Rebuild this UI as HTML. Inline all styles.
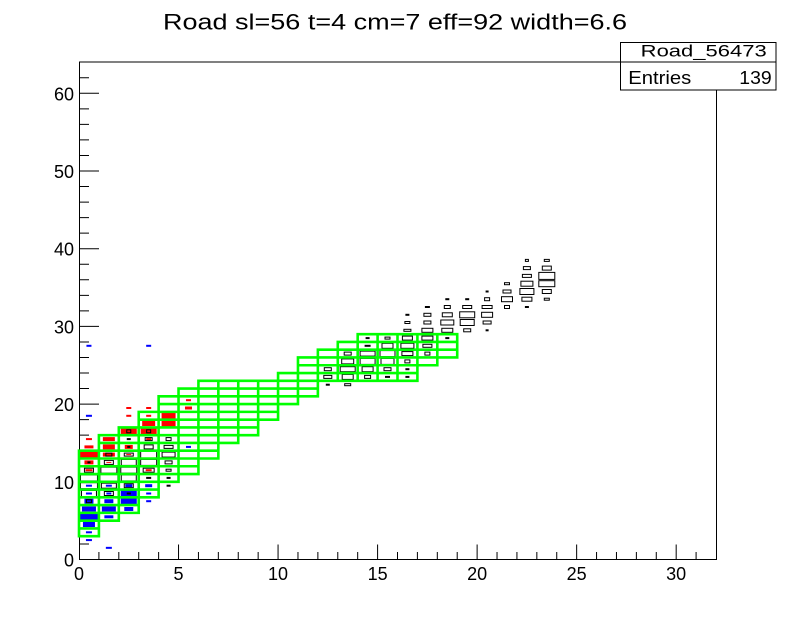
<!DOCTYPE html>
<html><head><meta charset="utf-8"><style>
html,body{margin:0;padding:0;background:#fff;}
svg{display:block;}
.r{fill:#ff0000;}
.b{fill:#0000ff;}
.f{fill:#000;}
.o{fill:none;stroke:#000;stroke-width:1;}
text{font-family:"Liberation Sans",Arial,sans-serif;fill:#000;}
</style></head><body>
<svg width="796" height="622" viewBox="0 0 796 622" xmlns="http://www.w3.org/2000/svg">
<rect x="0" y="0" width="796" height="622" fill="#fff"/>
<!-- title -->
<text x="163" y="29.3" font-size="22" textLength="464" lengthAdjust="spacingAndGlyphs">Road sl=56 t=4 cm=7 eff=92 width=6.6</text>

<!-- frame -->
<rect x="79.5" y="62" width="637" height="497.5" fill="none" stroke="#000" stroke-width="1"/>

<!-- x ticks -->
<path stroke="#000" stroke-width="1" fill="none" d="
M79.5 559.5V544.5 M178.53 559.5V544.5 M278.06 559.5V544.5 M377.59 559.5V544.5 M477.12 559.5V544.5 M576.65 559.5V544.5 M676.18 559.5V544.5
M98.91 559.5V552 M118.81 559.5V552 M138.72 559.5V552 M158.62 559.5V552
M198.44 559.5V552 M218.34 559.5V552 M238.25 559.5V552 M258.15 559.5V552
M297.97 559.5V552 M317.87 559.5V552 M337.78 559.5V552 M357.68 559.5V552
M397.5 559.5V552 M417.4 559.5V552 M437.31 559.5V552 M457.21 559.5V552
M497.03 559.5V552 M516.93 559.5V552 M536.84 559.5V552 M556.74 559.5V552
M596.56 559.5V552 M616.46 559.5V552 M636.37 559.5V552 M656.27 559.5V552
M696.09 559.5V552"/>
<!-- y ticks -->
<path stroke="#000" stroke-width="1" fill="none" d="
M79 481.8H99 M79 404.1H99 M79 326.4H99 M79 248.7H99 M79 171H99 M79 93.3H99
M79 543.96H89 M79 528.42H89 M79 512.88H89 M79 497.34H89
M79 466.26H89 M79 450.72H89 M79 435.18H89 M79 419.64H89
M79 388.56H89 M79 373.02H89 M79 357.48H89 M79 341.94H89
M79 310.86H89 M79 295.32H89 M79 279.78H89 M79 264.24H89
M79 233.16H89 M79 217.62H89 M79 202.08H89 M79 186.54H89
M79 155.46H89 M79 139.92H89 M79 124.38H89 M79 108.84H89
M79 77.76H89"/>

<!-- axis labels -->
<g font-size="18" text-anchor="middle">
<text x="79" y="580">0</text>
<text x="178.5" y="580">5</text>
<text x="278" y="580">10</text>
<text x="377.6" y="580">15</text>
<text x="477.1" y="580">20</text>
<text x="576.6" y="580">25</text>
<text x="676.2" y="580">30</text>
</g>
<g font-size="18" text-anchor="end">
<text x="74" y="566.5">0</text>
<text x="74" y="488.8">10</text>
<text x="74" y="411.1">20</text>
<text x="74" y="333.4">30</text>
<text x="74" y="255.7">40</text>
<text x="74" y="178">50</text>
<text x="74" y="100.3">60</text>
</g>

<!-- col 0 -->
<g transform="translate(88.95,540.08)"><rect class="b" x="-3" y="-1" width="6" height="2"/></g>
<g transform="translate(88.95,532.3)"><rect class="b" x="-3" y="-1" width="6" height="2"/></g>
<g transform="translate(88.95,524.5)"><rect class="b" x="-6" y="-2.5" width="12" height="5"/></g>
<g transform="translate(88.95,516.8)"><rect class="b" x="-9.5" y="-3.5" width="19" height="7"/></g>
<g transform="translate(88.95,509.0)"><rect class="b" x="-7" y="-2.5" width="14" height="5"/></g>
<g transform="translate(88.95,501.2)"><rect class="b" x="-4.5" y="-2.5" width="9" height="5"/><rect class="o" x="-2.5" y="-1.5" width="5" height="3"/></g>
<g transform="translate(88.95,493.5)"><rect class="b" x="-3" y="-1" width="6" height="2"/><rect class="o" x="-7.5" y="-3" width="15" height="6"/></g>
<g transform="translate(88.95,485.7)"><rect class="b" x="-3" y="-1" width="6" height="2"/><rect class="o" x="-9" y="-3.5" width="18" height="7" style="stroke-width:2"/></g>
<g transform="translate(88.95,477.9)"><rect class="o" x="-8.5" y="-3" width="17" height="6"/></g>
<g transform="translate(88.95,470.2)"><rect class="r" x="-3.5" y="-1" width="7" height="2"/><rect class="o" x="-4.5" y="-2" width="9" height="4"/></g>
<g transform="translate(88.95,462.4)"><rect class="r" x="-4.5" y="-2" width="9" height="4"/><rect class="f" x="-1.5" y="-1" width="3" height="2"/></g>
<g transform="translate(88.95,454.6)"><rect class="r" x="-9.5" y="-3.5" width="19" height="7"/></g>
<g transform="translate(88.95,446.9)"><rect class="r" x="-4.5" y="-1.5" width="9" height="3"/></g>
<g transform="translate(88.95,439.1)"><rect class="r" x="-3" y="-1" width="6" height="2"/></g>
<g transform="translate(88.95,415.8)"><rect class="b" x="-3" y="-1" width="6" height="2"/></g>
<g transform="translate(88.95,345.8)"><rect class="b" x="-2.5" y="-1" width="5" height="2"/></g>

<!-- col 1 -->
<g transform="translate(108.86,547.85)"><rect class="b" x="-3" y="-1" width="6" height="2"/></g>
<g transform="translate(108.86,516.8)"><rect class="b" x="-4.5" y="-1.5" width="9" height="3"/></g>
<g transform="translate(108.86,509.0)"><rect class="b" x="-7" y="-2.5" width="14" height="5"/></g>
<g transform="translate(108.86,501.2)"><rect class="b" x="-4.5" y="-2" width="9" height="4"/></g>
<g transform="translate(108.86,493.5)"><rect class="b" x="-2.5" y="-1" width="5" height="2"/><rect class="o" x="-4.5" y="-2" width="9" height="4"/></g>
<g transform="translate(108.86,485.7)"><rect class="b" x="-3" y="-1" width="6" height="2"/><rect class="o" x="-7.5" y="-2.5" width="15" height="5"/></g>
<g transform="translate(108.86,477.9)"><rect class="o" x="-9" y="-3.5" width="18" height="7"/></g>
<g transform="translate(108.86,470.2)"><rect class="o" x="-8" y="-3" width="16" height="6"/></g>
<g transform="translate(108.86,462.4)"><rect class="r" x="-2.5" y="-0.5" width="5" height="1"/><rect class="o" x="-4.5" y="-2" width="9" height="4"/></g>
<g transform="translate(108.86,454.6)"><rect class="r" x="-6" y="-2" width="12" height="4"/><rect class="o" x="-3" y="-1.5" width="6" height="3"/></g>
<g transform="translate(108.86,446.9)"><rect class="r" x="-6" y="-2.5" width="12" height="5"/></g>
<g transform="translate(108.86,439.1)"><rect class="r" x="-6" y="-2" width="12" height="4"/></g>

<!-- col 2 -->
<g transform="translate(128.77,509.0)"><rect class="b" x="-4.5" y="-2" width="9" height="4"/></g>
<g transform="translate(128.77,501.2)"><rect class="b" x="-8" y="-3" width="16" height="6"/></g>
<g transform="translate(128.77,493.5)"><rect class="b" x="-8" y="-3" width="16" height="6"/><rect class="f" x="-2" y="-1" width="4" height="2"/></g>
<g transform="translate(128.77,485.7)"><rect class="b" x="-3.5" y="-1.5" width="7" height="3"/><rect class="o" x="-4.5" y="-2" width="9" height="4"/></g>
<g transform="translate(128.77,477.9)"><rect class="o" x="-7.5" y="-3" width="15" height="6"/></g>
<g transform="translate(128.77,470.2)"><rect class="o" x="-8" y="-3" width="16" height="6"/></g>
<g transform="translate(128.77,462.4)"><rect class="o" x="-7.5" y="-3" width="15" height="6"/></g>
<g transform="translate(128.77,454.6)"><rect class="r" x="-2.5" y="-0.5" width="5" height="1"/><rect class="o" x="-4.5" y="-1.5" width="9" height="3"/></g>
<g transform="translate(128.77,446.9)"><rect class="r" x="-4" y="-2" width="8" height="4"/><rect class="f" x="-1.5" y="-1" width="3" height="2"/></g>
<g transform="translate(128.77,439.1)"><rect class="f" x="-2" y="-1" width="4" height="2"/></g>
<g transform="translate(128.77,431.3)"><rect class="r" x="-8" y="-3" width="16" height="6"/><rect class="o" x="-2" y="-1.5" width="4" height="3"/></g>
<g transform="translate(128.77,415.8)"><rect class="r" x="-2.5" y="-1" width="5" height="2"/></g>
<g transform="translate(128.77,408.0)"><rect class="r" x="-2.5" y="-1" width="5" height="2"/></g>

<!-- col 3 -->
<g transform="translate(148.67,501.2)"><rect class="b" x="-2.5" y="-1" width="5" height="2"/></g>
<g transform="translate(148.67,493.5)"><rect class="b" x="-2.5" y="-1" width="5" height="2"/></g>
<g transform="translate(148.67,485.7)"><rect class="b" x="-3.5" y="-1.5" width="7" height="3"/></g>
<g transform="translate(148.67,477.9)"><rect class="f" x="-2.5" y="-1" width="5" height="2"/></g>
<g transform="translate(148.67,470.2)"><rect class="r" x="-3" y="-1" width="6" height="2"/><rect class="o" x="-5.5" y="-2" width="11" height="4"/></g>
<g transform="translate(148.67,462.4)"><rect class="o" x="-8" y="-3" width="16" height="6"/></g>
<g transform="translate(148.67,454.6)"><rect class="o" x="-8" y="-3.5" width="16" height="7"/></g>
<g transform="translate(148.67,446.9)"><rect class="o" x="-4.5" y="-2" width="9" height="4"/></g>
<g transform="translate(148.67,439.1)"><rect class="r" x="-2.5" y="-1" width="5" height="2"/><rect class="o" x="-3.5" y="-1.5" width="7" height="3"/></g>
<g transform="translate(148.67,431.3)"><rect class="r" x="-8" y="-3" width="16" height="6"/><rect class="o" x="-2" y="-1.5" width="4" height="3"/></g>
<g transform="translate(148.67,423.5)"><rect class="r" x="-6.5" y="-2.5" width="13" height="5"/></g>
<g transform="translate(148.67,415.8)"><rect class="r" x="-2.5" y="-1" width="5" height="2"/></g>
<g transform="translate(148.67,408.0)"><rect class="r" x="-2.5" y="-1" width="5" height="2"/></g>
<g transform="translate(148.67,345.8)"><rect class="b" x="-2.5" y="-1" width="5" height="2"/></g>

<!-- col 4 -->
<g transform="translate(168.58,485.7)"><rect class="f" x="-2" y="-1" width="4" height="2"/></g>
<g transform="translate(168.58,477.9)"><rect class="f" x="-2" y="-1" width="4" height="2"/></g>
<g transform="translate(168.58,470.2)"><rect class="o" x="-2.5" y="-1" width="5" height="2"/></g>
<g transform="translate(168.58,462.4)"><rect class="o" x="-3.5" y="-1.5" width="7" height="3"/></g>
<g transform="translate(168.58,454.6)"><rect class="o" x="-6.5" y="-2.5" width="13" height="5"/></g>
<g transform="translate(168.58,446.9)"><rect class="o" x="-4.5" y="-1.5" width="9" height="3"/></g>
<g transform="translate(168.58,439.1)"><rect class="o" x="-2.5" y="-1.5" width="5" height="3"/></g>
<g transform="translate(168.58,423.5)"><rect class="r" x="-7" y="-3" width="14" height="6"/></g>
<g transform="translate(168.58,415.8)"><rect class="r" x="-7" y="-3" width="14" height="6"/></g>

<!-- col 5 -->
<g transform="translate(188.48,446.9)"><rect class="b" x="-2.5" y="-1" width="5" height="2"/></g>
<g transform="translate(188.48,408.0)"><rect class="r" x="-3.5" y="-1.5" width="7" height="3"/></g>
<g transform="translate(188.48,400.2)"><rect class="r" x="-2.5" y="-1" width="5" height="2"/></g>

<!-- col 12 -->
<g transform="translate(327.8,369.2)"><rect class="o" x="-3.5" y="-1.5" width="7" height="3"/></g>
<g transform="translate(327.8,376.9)"><rect class="o" x="-4" y="-1.5" width="8" height="3"/></g>
<g transform="translate(327.8,384.7)"><rect class="f" x="-2" y="-1" width="4" height="2"/></g>
<!-- col 13 -->
<g transform="translate(347.7,353.6)"><rect class="o" x="-3.5" y="-1.5" width="7" height="3"/></g>
<g transform="translate(347.7,361.4)"><rect class="o" x="-6" y="-2.5" width="12" height="5"/></g>
<g transform="translate(347.7,369.2)"><rect class="o" x="-7.5" y="-2.5" width="15" height="5"/></g>
<g transform="translate(347.7,376.9)"><rect class="o" x="-5.5" y="-2.5" width="11" height="5"/></g>
<g transform="translate(347.7,384.7)"><rect class="o" x="-3" y="-1" width="6" height="2"/></g>
<!-- col 14 -->
<g transform="translate(367.6,338.1)"><rect class="f" x="-2" y="-1" width="4" height="2"/></g>
<g transform="translate(367.6,345.8)"><rect class="f" x="-3" y="-1" width="6" height="2"/></g>
<g transform="translate(367.6,353.6)"><rect class="o" x="-7.5" y="-2.5" width="15" height="5"/></g>
<g transform="translate(367.6,361.4)"><rect class="o" x="-7.5" y="-3" width="15" height="6"/></g>
<g transform="translate(367.6,369.2)"><rect class="o" x="-5.5" y="-2.5" width="11" height="5"/></g>
<g transform="translate(367.6,376.9)"><rect class="o" x="-3" y="-1.5" width="6" height="3"/></g>
<!-- col 15 -->
<g transform="translate(387.5,338.1)"><rect class="o" x="-2.5" y="-1" width="5" height="2"/></g>
<g transform="translate(387.5,345.8)"><rect class="o" x="-5.5" y="-2.5" width="11" height="5"/></g>
<g transform="translate(387.5,353.6)"><rect class="o" x="-7.5" y="-3" width="15" height="6"/></g>
<g transform="translate(387.5,361.4)"><rect class="o" x="-6.5" y="-3" width="13" height="6"/></g>
<g transform="translate(387.5,369.2)"><rect class="o" x="-3.5" y="-1.5" width="7" height="3"/></g>
<g transform="translate(387.5,376.9)"><rect class="f" x="-2.5" y="-1" width="5" height="2"/></g>
<!-- col 16 -->
<g transform="translate(407.4,314.8)"><rect class="f" x="-2" y="-1" width="4" height="2"/></g>
<g transform="translate(407.4,322.5)"><rect class="o" x="-2.5" y="-1" width="5" height="2"/></g>
<g transform="translate(407.4,330.3)"><rect class="o" x="-3.5" y="-1" width="7" height="2"/></g>
<g transform="translate(407.4,338.1)"><rect class="o" x="-5" y="-2" width="10" height="4"/></g>
<g transform="translate(407.4,345.8)"><rect class="o" x="-6.5" y="-2.5" width="13" height="5"/></g>
<g transform="translate(407.4,353.6)"><rect class="o" x="-5.5" y="-2" width="11" height="4"/></g>
<g transform="translate(407.4,361.4)"><rect class="o" x="-2.5" y="-1.5" width="5" height="3"/></g>
<g transform="translate(407.4,369.2)"><rect class="f" x="-2" y="-1" width="4" height="2"/></g>
<g transform="translate(407.4,376.9)"><rect class="f" x="-2" y="-1" width="4" height="2"/></g>
<!-- col 17 -->
<g transform="translate(427.4,307.0)"><rect class="f" x="-2.5" y="-1" width="5" height="2"/></g>
<g transform="translate(427.4,314.8)"><rect class="o" x="-3.5" y="-1.5" width="7" height="3"/></g>
<g transform="translate(427.4,322.5)"><rect class="o" x="-3.5" y="-1.5" width="7" height="3"/></g>
<g transform="translate(427.4,330.3)"><rect class="o" x="-5.5" y="-2" width="11" height="4"/></g>
<g transform="translate(427.4,338.1)"><rect class="o" x="-5.5" y="-2" width="11" height="4"/></g>
<g transform="translate(427.4,345.8)"><rect class="o" x="-4.5" y="-1.5" width="9" height="3"/></g>
<g transform="translate(427.4,353.6)"><rect class="o" x="-2.5" y="-1.5" width="5" height="3"/></g>
<!-- col 18 -->
<g transform="translate(447.3,299.2)"><rect class="f" x="-2" y="-1" width="4" height="2"/></g>
<g transform="translate(447.3,307.0)"><rect class="o" x="-3" y="-1.5" width="6" height="3"/></g>
<g transform="translate(447.3,314.8)"><rect class="o" x="-5" y="-2" width="10" height="4"/></g>
<g transform="translate(447.3,322.5)"><rect class="o" x="-6.5" y="-2.5" width="13" height="5"/></g>
<g transform="translate(447.3,330.3)"><rect class="o" x="-5.5" y="-2" width="11" height="4"/></g>
<g transform="translate(447.3,338.1)"><rect class="f" x="-2" y="-1" width="4" height="2"/></g>
<!-- col 19 -->
<g transform="translate(467.2,299.2)"><rect class="f" x="-2" y="-1" width="4" height="2"/></g>
<g transform="translate(467.2,307.0)"><rect class="o" x="-4.5" y="-1.5" width="9" height="3"/></g>
<g transform="translate(467.2,314.8)"><rect class="o" x="-7.5" y="-3" width="15" height="6"/></g>
<g transform="translate(467.2,322.5)"><rect class="o" x="-7" y="-3" width="14" height="6"/></g>
<g transform="translate(467.2,330.3)"><rect class="o" x="-3.5" y="-1.5" width="7" height="3"/></g>
<!-- col 20 -->
<g transform="translate(487.1,291.5)"><rect class="f" x="-1.5" y="-1" width="3" height="2"/></g>
<g transform="translate(487.1,299.2)"><rect class="o" x="-2.5" y="-1.5" width="5" height="3"/></g>
<g transform="translate(487.1,307.0)"><rect class="o" x="-5" y="-1.5" width="10" height="3"/></g>
<g transform="translate(487.1,314.8)"><rect class="o" x="-5.5" y="-2.5" width="11" height="5"/></g>
<g transform="translate(487.1,322.5)"><rect class="o" x="-4" y="-1.5" width="8" height="3"/></g>
<g transform="translate(487.1,330.3)"><rect class="f" x="-1.5" y="-1" width="3" height="2"/></g>
<!-- col 21 -->
<g transform="translate(507.0,283.7)"><rect class="o" x="-2.5" y="-1" width="5" height="2"/></g>
<g transform="translate(507.0,291.5)"><rect class="o" x="-4" y="-1.5" width="8" height="3"/></g>
<g transform="translate(507.0,299.2)"><rect class="o" x="-5.5" y="-2.5" width="11" height="5"/></g>
<g transform="translate(507.0,307.0)"><rect class="o" x="-2.5" y="-1.5" width="5" height="3"/></g>
<!-- col 22 -->
<g transform="translate(526.9,260.4)"><rect class="o" x="-1.5" y="-1" width="3" height="2"/></g>
<g transform="translate(526.9,268.1)"><rect class="o" x="-3.5" y="-1.5" width="7" height="3"/></g>
<g transform="translate(526.9,275.9)"><rect class="o" x="-4.5" y="-1.5" width="9" height="3"/></g>
<g transform="translate(526.9,283.7)"><rect class="o" x="-6" y="-2.5" width="12" height="5"/></g>
<g transform="translate(526.9,291.5)"><rect class="o" x="-7" y="-3" width="14" height="6"/></g>
<g transform="translate(526.9,299.2)"><rect class="o" x="-5" y="-2" width="10" height="4"/></g>
<g transform="translate(526.9,307.0)"><rect class="f" x="-2" y="-1" width="4" height="2"/></g>
<!-- col 23 -->
<g transform="translate(546.8,260.4)"><rect class="o" x="-2.5" y="-1" width="5" height="2"/></g>
<g transform="translate(546.8,268.1)"><rect class="o" x="-4.5" y="-2" width="9" height="4"/></g>
<g transform="translate(546.8,275.9)"><rect class="o" x="-8" y="-3.5" width="16" height="7"/></g>
<g transform="translate(546.8,283.7)"><rect class="o" x="-8" y="-3" width="16" height="6"/></g>
<g transform="translate(546.8,291.5)"><rect class="o" x="-4.5" y="-2" width="9" height="4"/></g>
<g transform="translate(546.8,299.2)"><rect class="o" x="-2.5" y="-1" width="5" height="2"/></g>

<!-- green road grid -->
<g transform="translate(79,559.5) scale(19.906,-7.77)">
<path fill="none" stroke="#00ff00" stroke-width="2.6" stroke-linecap="square" vector-effect="non-scaling-stroke" d="
M0 3V14 M1 3V16 M2 5V17 M3 6V19 M4 8V21 M5 10V22 M6 11V23 M7 13V23 M8 15V23 M9 16V23
M10 18V24 M11 20V26 M12 21V27 M13 23V28 M14 23V29 M15 23V29 M16 23V29 M17 23V29 M18 25V29 M19 26V29
M0 3H1 M0 4H1 M0 5H2 M0 6H3 M0 7H3 M0 8H4 M0 9H4 M0 10H5 M0 11H6 M0 12H6 M0 13H7 M0 14H7
M1 15H8 M1 16H9 M2 17H9 M3 18H10 M3 19H10 M4 20H11 M4 21H12 M5 22H12 M6 23H17
M10 24H17 M11 25H18 M11 26H19 M12 27H19 M13 28H19 M14 29H19"/>
</g>

<!-- stats box -->
<rect x="620.5" y="42.5" width="155.5" height="47.5" fill="#fff" stroke="#000" stroke-width="1"/>
<line x1="620.5" y1="62" x2="776" y2="62" stroke="#000" stroke-width="1"/>
<text x="640.7" y="56.7" font-size="17" textLength="126" lengthAdjust="spacingAndGlyphs">Road_56473</text>
<text x="628.3" y="84" font-size="18.5" textLength="63" lengthAdjust="spacingAndGlyphs">Entries</text>
<text x="739.3" y="84" font-size="18.5" textLength="32.4" lengthAdjust="spacingAndGlyphs">139</text>
</svg>
</body></html>
